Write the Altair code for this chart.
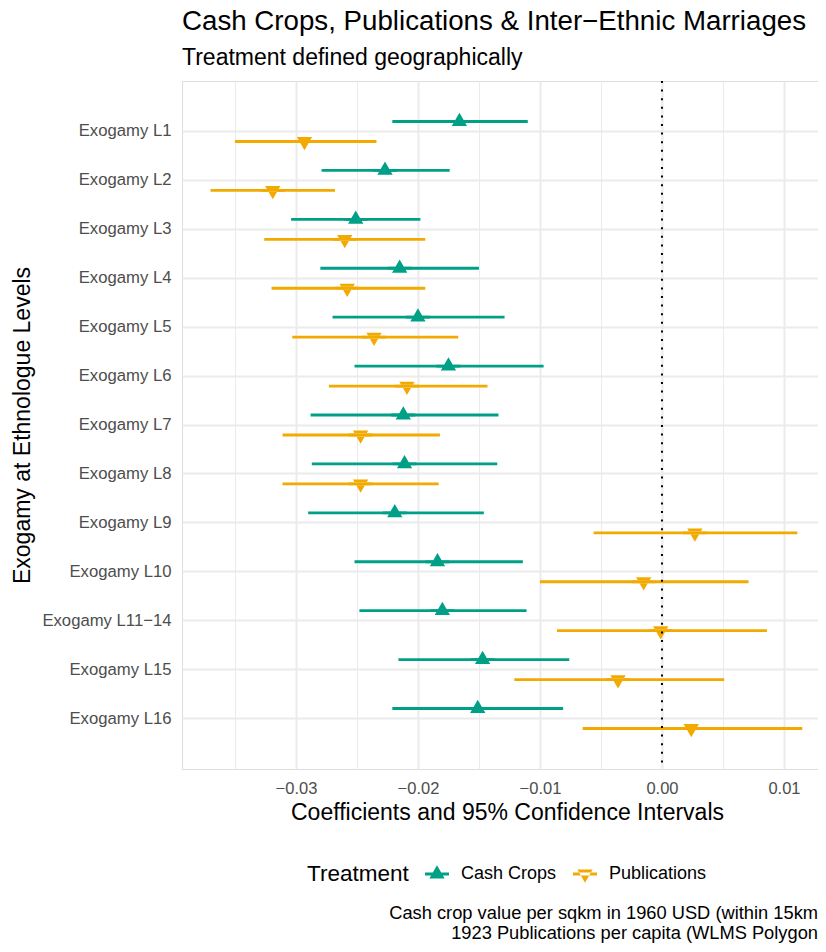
import altair as alt
import pandas as pd

# ---- data ----
categories = ["Exogamy L1", "Exogamy L2", "Exogamy L3", "Exogamy L4", "Exogamy L5",
              "Exogamy L6", "Exogamy L7", "Exogamy L8", "Exogamy L9", "Exogamy L10",
              "Exogamy L11\u221214", "Exogamy L15", "Exogamy L16"]
treatments = ["Cash Crops", "Publications"]

cash_est = [-0.0166, -0.0227, -0.0251, -0.0215, -0.0200, -0.0175, -0.0212, -0.0211, -0.0219, -0.0184, -0.0180, -0.0147, -0.0151]
cash_lo = [-0.0221, -0.0279, -0.0304, -0.0280, -0.0270, -0.0252, -0.0288, -0.0287, -0.0290, -0.0252, -0.0248, -0.0216, -0.0221]
cash_hi = [-0.0110, -0.0174, -0.0198, -0.0150, -0.0129, -0.0097, -0.0134, -0.0135, -0.0146, -0.0114, -0.0111, -0.0076, -0.0081]

pub_est = [-0.0293, -0.0319, -0.0260, -0.0258, -0.0236, -0.0209, -0.0247, -0.0247, 0.0027, -0.0015, -0.0001, -0.0036, 0.0024]
pub_lo = [-0.0350, -0.0370, -0.0326, -0.0320, -0.0303, -0.0273, -0.0311, -0.0311, -0.0056, -0.0100, -0.0086, -0.0121, -0.0065]
pub_hi = [-0.0234, -0.0268, -0.0194, -0.0194, -0.0167, -0.0143, -0.0182, -0.0183, 0.0111, 0.0071, 0.0086, 0.0051, 0.0115]

x_ticks = [-0.035, -0.03, -0.025, -0.02, -0.015, -0.01, -0.005, 0.0, 0.005, 0.01]
zero_line = [0.0]
caption_lines = ["Cash crop value per sqkm in 1960 USD (within 15km",
                 "1923 Publications per capita (WLMS Polygon"]

colors = ["#00A087", "#F2AA00"]
FONT = "Liberation Sans"

rows = []
for i, c in enumerate(categories):
    rows.append({"cat": c, "Treatment": treatments[0], "est": cash_est[i], "lo": cash_lo[i], "hi": cash_hi[i]})
    rows.append({"cat": c, "Treatment": treatments[1], "est": pub_est[i], "lo": pub_lo[i], "hi": pub_hi[i]})
df = pd.DataFrame(rows)

W, H = 636, 688

up_path = "M-1.57,-0.18H1.57V0.18H-1.57Z M0,-1.155L1,0.577L-1,0.577Z"
down_path = "M-1.57,-0.18H1.57V0.18H-1.57Z M0,1.155L1,-0.577L-1,-0.577Z"

x_enc_scale = alt.Scale(domain=[-0.03934, 0.01279], nice=False, zero=False)
y_scale = alt.Scale(paddingInner=0, paddingOuter=0.532)
yoff_scale = alt.Scale(domain=treatments, paddingInner=0, paddingOuter=0.223)

x_axis = alt.Axis(
    values=x_ticks,
    title="Coefficients and 95% Confidence Intervals",
    labelExpr="abs(round(datum.value*200)) % 2 == 0 ? replace(format(datum.value, '.2f'), '-', '\u2212') : ''",
    ticks=False, tickSize=0, domain=False, grid=True, gridColor="#EBEBEB",
    gridWidth={"condition": {"test": "abs(round(datum.value*200)) % 2 == 0", "value": 2}, "value": 1},
    labelFont=FONT, labelFontSize=16.5, labelColor="#4D4D4D", labelPadding=11,
    labelFlush=False, labelOverlap=False,
    titleFont=FONT, titleFontSize=23, titleFontWeight="normal", titleColor="black",
    titleX=325, titleY=43, titleBaseline="middle", titleAlign="center",
)
y_axis = alt.Axis(
    title="Exogamy at Ethnologue Levels",
    ticks=False, tickSize=0, domain=False, grid=True, gridColor="#EBEBEB", gridWidth=2,
    labelFont=FONT, labelFontSize=16.7, labelColor="#4D4D4D", labelPadding=11,
    titleFont=FONT, titleFontSize=23, titleFontWeight="normal", titleColor="black",
    titleX=-160, titleY=H / 2, titleAngle=270, titleBaseline="middle", titleAlign="center",
)

legend = alt.Legend(orient="none", legendX=125, legendY=784, direction="horizontal",
                    titleOrient="left", title="Treatment",
                    titleFont=FONT, titleFontSize=22.5, titleFontWeight="normal",
                    titleColor="black", titlePadding=19, titleBaseline="middle",
                    labelFont=FONT, labelFontSize=18, labelColor="black",
                    labelOffset=15, columnPadding=15, symbolSize=234,
                    symbolStrokeWidth=0, symbolOpacity=1)

color_scale = alt.Scale(domain=treatments, range=colors)

base = alt.Chart(df)

points = base.mark_point(filled=True, opacity=1, size=234).encode(
    x=alt.X("est:Q", scale=x_enc_scale, axis=x_axis),
    y=alt.Y("cat:N", sort=categories, scale=y_scale, axis=y_axis),
    yOffset=alt.YOffset("Treatment:N", scale=yoff_scale, sort=treatments),
    color=alt.Color("Treatment:N", scale=color_scale, legend=legend),
    shape=alt.Shape("Treatment:N", scale=alt.Scale(domain=treatments, range=[up_path, down_path]),
                    legend=legend),
)

bars = base.mark_rule(strokeWidth=2.8).encode(
    x=alt.X("lo:Q", scale=x_enc_scale),
    x2="hi:Q",
    y=alt.Y("cat:N", sort=categories, scale=y_scale),
    yOffset=alt.YOffset("Treatment:N", scale=yoff_scale, sort=treatments),
    color=alt.Color("Treatment:N", scale=color_scale, legend=legend),
)

vline = alt.Chart(pd.DataFrame({"z": zero_line})).mark_rule(
    color="black", strokeWidth=2, strokeDash=[2, 6.6]
).encode(x=alt.X("z:Q", scale=x_enc_scale))

cap1 = alt.Chart(pd.DataFrame({"line": caption_lines[:1]})).mark_text(
    align="right", baseline="middle", font=FONT, fontSize=18.3, color="black"
).encode(text="line:N", x=alt.value(W), y=alt.value(833))
cap2 = alt.Chart(pd.DataFrame({"line": caption_lines[1:]})).mark_text(
    align="right", baseline="middle", font=FONT, fontSize=18.3, color="black"
).encode(text="line:N", x=alt.value(W), y=alt.value(853))

chart = alt.layer(points, bars, vline, cap1, cap2).properties(
    width=W, height=H,
    autosize=alt.AutoSizeParams(type="none"),
    padding={"left": 174, "top": 73, "right": 0, "bottom": 175},
    title=alt.Title(
        text="Cash Crops, Publications & Inter\u2212Ethnic Marriages",
        subtitle="Treatment defined geographically",
        anchor="start", frame="group", font=FONT, subtitleFont=FONT,
        fontSize=27.7, subtitleFontSize=23, fontWeight="normal",
        color="black", subtitleColor="black", offset=10, subtitlePadding=11,
    ),
).configure_view(strokeWidth=0).configure(background="white")

chart.save("out.html", embed_options={"renderer": "svg", "actions": False})
